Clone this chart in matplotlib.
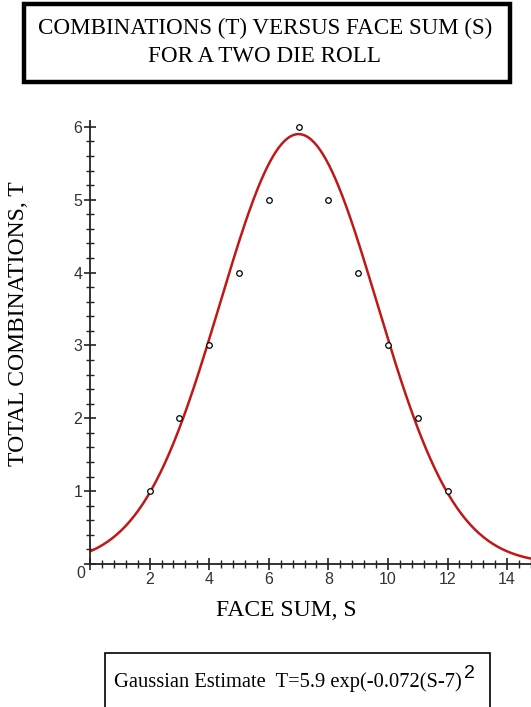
#Python libraries for math and graphics
import numpy as np
import matplotlib
matplotlib.use('Agg')
import matplotlib.pyplot as plt
from matplotlib.patches import Rectangle
from matplotlib.ticker import MultipleLocator, FuncFormatter

#Data: face sum vs number of combinations
face_sum = [2, 3, 4, 5, 6, 7, 8, 9, 10, 11, 12]
combos = [1, 2, 3, 4, 5, 6, 5, 4, 3, 2, 1]

#Gaussian estimate parameters (as printed on the chart)
amp = 5.9
k = 0.072
mu = 7

title_lines = ['COMBINATIONS (T) VERSUS FACE SUM (S)', 'FOR A TWO DIE ROLL']
xlab = 'FACE SUM, S'
ylab = 'TOTAL COMBINATIONS, T'
note = 'Gaussian Estimate  T=5.9 exp(-0.072(S-7)'

serif = 'Liberation Serif'
sans = 'Liberation Sans'

fig = plt.figure(figsize=(5.31, 7.07), dpi=100)
W, H = 531.0, 707.0

def fx(px):
    return px / W

def fy(py):
    return 1 - py / H

#main axes
ax = fig.add_axes([fx(90), fy(564), fx(531) - fx(90), fy(121) - fy(564)])
s = np.linspace(0, 14.8, 300)
ax.plot(s, amp * np.exp(-k * (s - mu) ** 2), color='#c01818', lw=1.8, zorder=2)
ax.scatter(face_sum, combos, s=16, facecolors='white', edgecolors='black', linewidths=0.9, zorder=3)

ax.set_xlim(0, 14.8)
ax.set_ylim(0, 6.08)
for side in ['top', 'right']:
    ax.spines[side].set_visible(False)
for side in ['left', 'bottom']:
    ax.spines[side].set_linewidth(1.3)
    ax.spines[side].set_color('#222222')
ax.xaxis.set_major_locator(MultipleLocator(2))
ax.xaxis.set_minor_locator(MultipleLocator(0.4))
ax.yaxis.set_major_locator(MultipleLocator(1))
ax.yaxis.set_minor_locator(MultipleLocator(0.2))
nozero = FuncFormatter(lambda v, p: '' if abs(v) < 1e-9 else '%d' % v)
ax.xaxis.set_major_formatter(nozero)
ax.yaxis.set_major_formatter(nozero)
ax.tick_params(which='major', direction='inout', length=8, width=1.2, labelsize=11.5,
               pad=1.5, colors='#222222', labelcolor='#333333')
ax.tick_params(which='minor', direction='inout', length=6, width=1.0, colors='#222222')
for lab in ax.get_xticklabels() + ax.get_yticklabels():
    lab.set_family(sans)
ax.patch.set_alpha(0)
fig.text(fx(81), fy(573), '0', family=sans, fontsize=11.5, color='#333333', ha='center', va='center')

#axis labels
fig.text(fx(286), fy(611), xlab, family=serif, fontsize=17, ha='center', va='center')
fig.text(fx(19), fy(324), ylab, family=serif, fontsize=17, ha='center', va='center', rotation=90)

#title box
fig.patches.append(Rectangle((fx(24), fy(82)), fx(510) - fx(24), fy(4) - fy(82),
                             transform=fig.transFigure, fill=False, lw=3.2, ec='black'))
fig.text(fx(265), fy(28), title_lines[0], family=serif, fontsize=16.6, ha='center', va='center')
fig.text(fx(265), fy(57), title_lines[1], family=serif, fontsize=16.6, ha='center', va='center')

#formula box
fig.patches.append(Rectangle((fx(105), fy(720)), fx(490) - fx(105), fy(653) - fy(720),
                             transform=fig.transFigure, fill=False, lw=1.2, ec='black'))
t = fig.text(fx(114), fy(682), note, family=serif, fontsize=14.8, ha='left', va='center')
fig.canvas.draw()
bb = t.get_window_extent()
fig.text(bb.x1 / W + 0.005, fy(674), '2', family=sans, fontsize=14, ha='left', va='center')

plt.savefig('out.png', dpi=100)
